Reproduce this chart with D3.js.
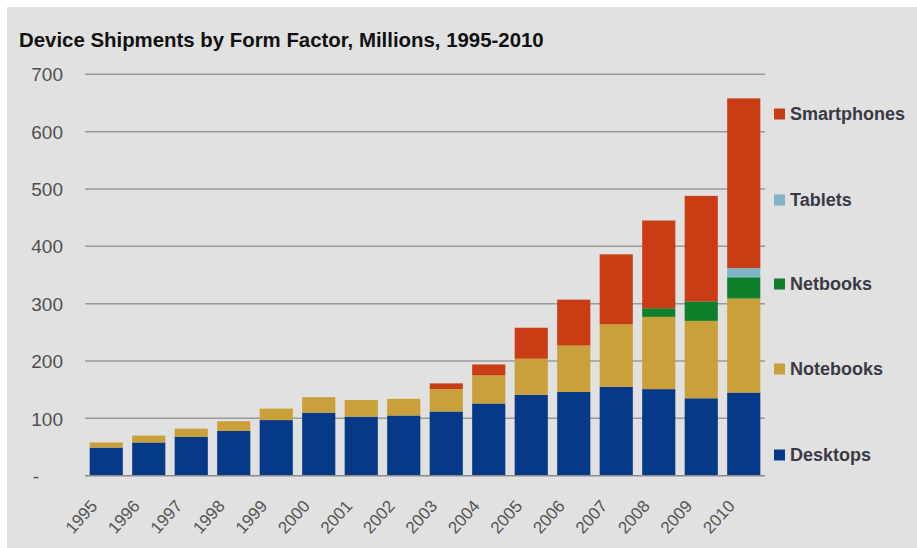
<!DOCTYPE html>
<html><head><meta charset="utf-8">
<script src="https://cdn.jsdelivr.net/npm/d3@7"></script>
<style>
html,body{margin:0;padding:0;background:#fff;}
svg{display:block;}
</style></head>
<body>
<script>
const years = ["1995","1996","1997","1998","1999","2000","2001","2002","2003","2004","2005","2006","2007","2008","2009","2010"];
const desktops    = [49, 58, 68, 78, 97, 110, 103, 105, 112, 126, 141, 146, 155, 151, 135, 145];
const notebooks   = [9, 12, 14, 17, 20, 27, 29, 29, 39, 49, 63, 81, 109, 126, 135, 164];
const netbooks    = [0, 0, 0, 0, 0, 0, 0, 0, 0, 0, 0, 0, 0, 15, 34, 37];
const tablets     = [0, 0, 0, 0, 0, 0, 0, 0, 0, 0, 0, 0, 0, 0, 0, 16];
const smartphones = [0, 0, 0, 0, 0, 0, 0, 0, 10, 19, 54, 80, 122, 153, 184, 296];
const seriesNames = ["Desktops","Notebooks","Netbooks","Tablets","Smartphones"];
const seriesColors = ["#063a88","#c9a03a","#0f7f2b","#7fb5c9","#c83d14"];
const yTicks = [0,100,200,300,400,500,600,700];
const title = "Device Shipments by Form Factor, Millions, 1995-2010";

const W = 917, H = 548;
const svg = d3.select("body").append("svg").attr("width", W).attr("height", H);
svg.append("rect").attr("x",7).attr("y",7).attr("width",W-7).attr("height",H-7).attr("fill","#e1e1e1");

const table = years.map((y,i)=>({year:y, Desktops:desktops[i], Notebooks:notebooks[i], Netbooks:netbooks[i], Tablets:tablets[i], Smartphones:smartphones[i]}));
const stack = d3.stack().keys(seriesNames)(table);

const x = d3.scaleBand().domain(years).range([85,765]).paddingInner(0.22).paddingOuter(0.11);
const y = d3.scaleLinear().domain([0,700]).range([475.7,74.3]);
const color = d3.scaleOrdinal().domain(seriesNames).range(seriesColors);

// gridlines
svg.append("g").selectAll("line").data(yTicks.filter(d=>d>0)).join("line")
  .attr("x1",85).attr("x2",765).attr("y1",d=>y(d)).attr("y2",d=>y(d))
  .attr("stroke","#9a9a9a").attr("stroke-width",1.5);

// y axis labels
const yAxis = d3.axisLeft(y).tickValues(yTicks).tickSize(0).tickPadding(0)
  .tickFormat(d=> d===0 ? "-" : d3.format("d")(d));
const gy = svg.append("g").attr("transform","translate(63,0)").call(yAxis);
gy.select(".domain").remove();
gy.selectAll("text").attr("font-family","Liberation Sans, Arial, sans-serif").attr("font-size",19).attr("fill","#505050").attr("dy","0.35em");
gy.selectAll(".tick").filter(d=>d===0).select("text").attr("text-anchor","middle").attr("x",-27);

// bars
svg.append("g").selectAll("g").data(stack).join("g").attr("fill",d=>color(d.key))
  .selectAll("rect").data(d=>d.filter(s=>s[1]-s[0]>0)).join("rect")
  .attr("x",d=>x(d.data.year)).attr("width",x.bandwidth())
  .attr("y",d=>y(d[1])).attr("height",d=>y(d[0])-y(d[1]));

// baseline
svg.append("line").attr("x1",85).attr("x2",765).attr("y1",y(0)).attr("y2",y(0))
  .attr("stroke","#8a8a8a").attr("stroke-width",1.5);

// x labels
const xAxis = d3.axisBottom(x).tickSize(0).tickPadding(0);
const gx = svg.append("g").attr("transform",`translate(0,${y(0)})`).call(xAxis);
gx.select(".domain").remove();
gx.selectAll("text")
  .attr("font-family","Liberation Sans, Arial, sans-serif").attr("font-size",17).attr("fill","#555")
  .attr("text-anchor","end").attr("dy",0).attr("y",0)
  .attr("transform","translate(-8,31) rotate(-48)");

// title
svg.append("text").attr("x",19).attr("y",47).text(title)
  .attr("font-family","Liberation Sans, Arial, sans-serif").attr("font-weight","bold")
  .attr("font-size",20.4).attr("fill","#111");

// legend
const legendY = [114,200,284,369,455];
const legendOrder = ["Smartphones","Tablets","Netbooks","Notebooks","Desktops"];
const lg = svg.append("g").selectAll("g").data(legendOrder).join("g")
  .attr("transform",(d,i)=>`translate(774,${legendY[i]})`);
lg.append("rect").attr("x",0).attr("y",-5.5).attr("width",11).attr("height",11).attr("fill",d=>color(d));
lg.append("text").attr("x",16).attr("y",0).attr("dy","0.35em").text(d=>d)
  .attr("font-family","Liberation Sans, Arial, sans-serif").attr("font-weight","bold")
  .attr("font-size",18).attr("fill","#3a3a44");
</script>
</body></html>
